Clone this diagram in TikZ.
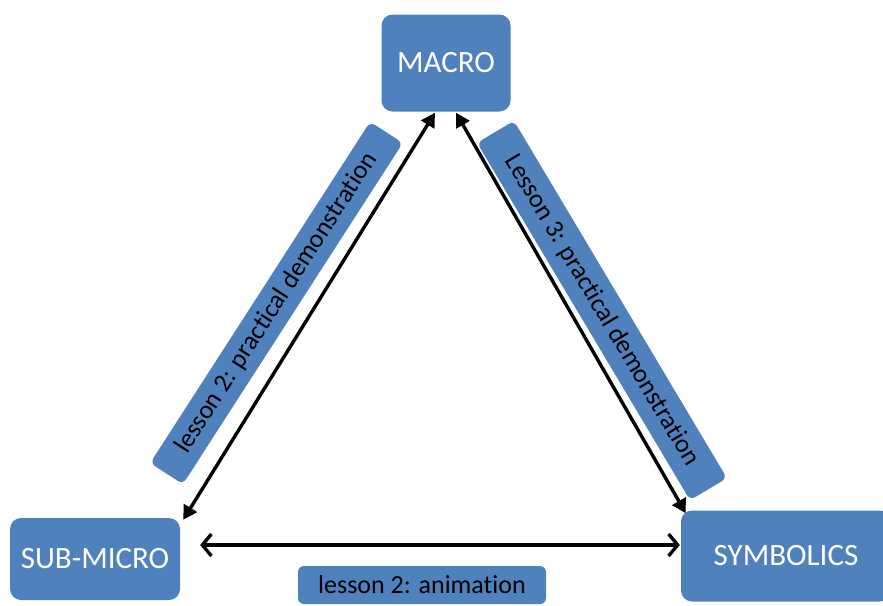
\documentclass[tikz,border=0pt]{standalone}
\usepackage{fontspec}
\setmainfont{Carlito}[Ligatures=NoCommon]
\usetikzlibrary{arrows.meta}
\definecolor{boxblue}{RGB}{79, 129, 189}

\begin{document}
\begin{tikzpicture}[x=1pt, y=-1pt,
    level/.style={rectangle, rounded corners=11pt, fill=boxblue, text=white, align=center,
                  inner sep=0pt, font=\fontsize{31}{36}\selectfont},
    lesson/.style={rectangle, rounded corners=6pt, fill=boxblue, text=black, align=center,
                   inner sep=0pt, font=\fontsize{26}{30}\selectfont},
    link/.style={line width=3.4pt, {Triangle[length=14pt, width=15pt]}-{Triangle[length=14pt, width=15pt]}},
    flat/.style={line width=3.4pt, {Straight Barb[length=9pt, width=22pt, line width=3.4pt]}-{Straight Barb[length=9pt, width=22pt, line width=3.4pt]}}]
    \useasboundingbox (0,0) rectangle (883,605);

    % Levels
    \node[level, minimum width=129pt, minimum height=97pt] (macro) at (446, 63) {MACRO};
    \node[level, minimum width=170pt, minimum height=82pt] (submicro) at (95, 559) {SUB-MICRO};
    \node[level, minimum width=210pt, minimum height=91pt] (symbolics) at (786, 556) {SYMBOLICS};

    % Lessons
    \node[lesson, minimum width=406pt, minimum height=39pt, rotate=57.2] (demo2) at (276.5, 303) {lesson 2: practical demonstration};
    \node[lesson, minimum width=416pt, minimum height=43pt, rotate=-59.2] (demo3) at (602, 310.5) {Lesson 3: practical demonstration};
    \node[lesson, minimum width=248pt, minimum height=38pt] (anim) at (422, 585) {lesson 2: animation};

    % Arrows
    \draw[link] ([xshift=3pt, yshift=-2pt]submicro.north east) -- ([xshift=-11pt, yshift=-1pt]macro.south);
    \draw[link] ([xshift=10pt, yshift=-1pt]macro.south) -- ([xshift=5pt, yshift=-3pt]symbolics.north west);
    \draw[flat] ([xshift=20pt, yshift=14pt]submicro.east) -- ([xshift=-1pt, yshift=11pt]symbolics.west);
\end{tikzpicture}
\end{document}
